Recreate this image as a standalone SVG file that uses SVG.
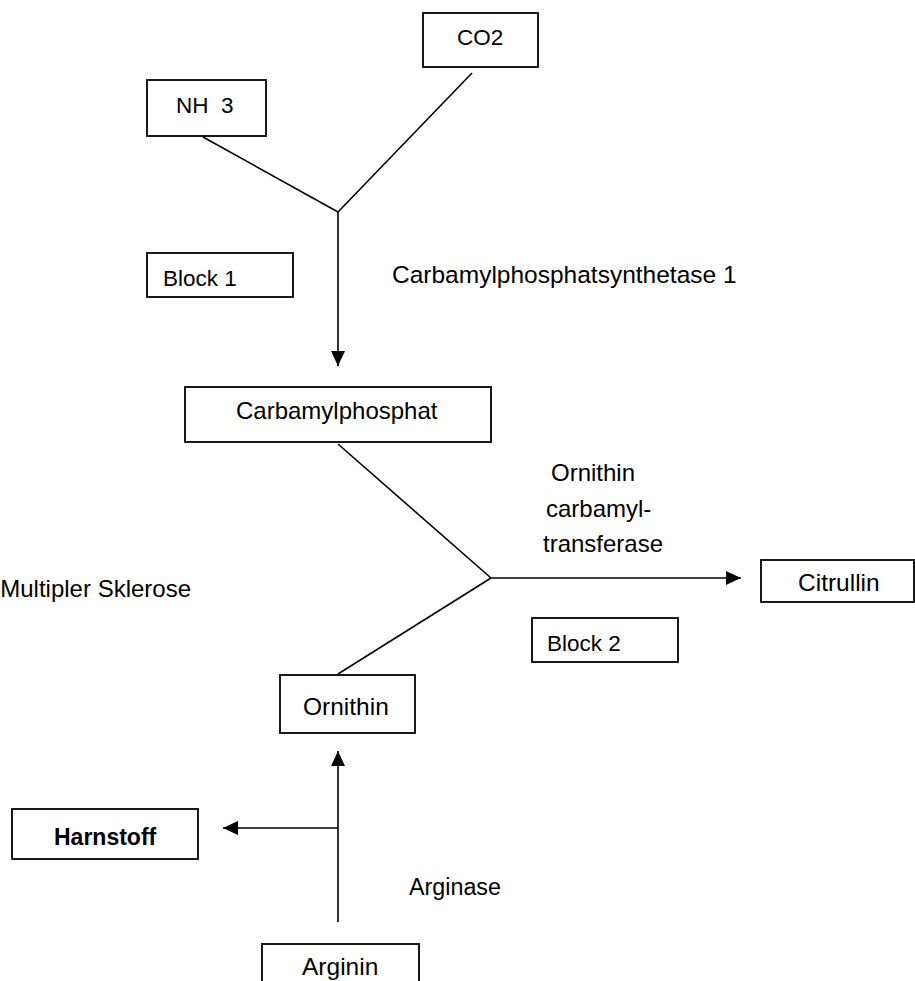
<svg xmlns="http://www.w3.org/2000/svg" width="915" height="981" viewBox="0 0 915 981">
  <style>
    text { font-family: "Liberation Sans", Arial, sans-serif; fill: #000; }
    .t { font-size: 24px; }
    .s { font-size: 22.5px; }
    .b { font-weight: bold; }
    .box { fill: #fff; stroke: #000; stroke-width: 1.8; }
    .ln { fill: none; stroke: #000; stroke-width: 1.6; }
    .arr { marker-end: url(#ah); }
  </style>
  <defs>
    <marker id="ah" viewBox="0 0 15 14" refX="15" refY="7" markerWidth="15" markerHeight="14" markerUnits="userSpaceOnUse" orient="auto">
      <path d="M0,0 L15,7 L0,14 Z" fill="#000"/>
    </marker>
  </defs>
  <rect width="915" height="981" fill="#fff"/>

  <g id="connectors">
    <line class="ln" x1="203" y1="137" x2="338" y2="212"/>
    <line class="ln" x1="472" y1="73" x2="338" y2="212"/>
    <line class="ln arr" x1="338" y1="212" x2="338" y2="366"/>
    <line class="ln" x1="338" y1="444" x2="491" y2="578"/>
    <line class="ln" x1="491" y1="578" x2="338" y2="674"/>
    <line class="ln arr" x1="491" y1="578" x2="741" y2="578"/>
    <line class="ln arr" x1="338" y1="922" x2="338" y2="751"/>
    <line class="ln arr" x1="338" y1="828" x2="223" y2="828"/>
  </g>

  <g id="co2">
    <rect class="box" x="423" y="13" width="115" height="54"/>
    <text class="s" x="457" y="45">CO2</text>
  </g>
  <g id="nh3">
    <rect class="box" x="147" y="80" width="119" height="56"/>
    <text class="s" x="176" y="113" xml:space="preserve">NH  3</text>
  </g>
  <g id="block1">
    <rect class="box" x="147" y="253" width="146" height="44"/>
    <text class="s" x="163" y="286">Block 1</text>
  </g>
  <g id="label-cps1">
    <text class="t" x="392" y="283" style="font-size:24.5px">Carbamylphosphatsynthetase 1</text>
  </g>
  <g id="carbamylphosphat">
    <rect class="box" x="185" y="387" width="306" height="55"/>
    <text class="t" x="236" y="419">Carbamylphosphat</text>
  </g>
  <g id="label-otc">
    <text class="t" x="551" y="481">Ornithin</text>
    <text class="t" x="546" y="517">carbamyl-</text>
    <text class="t" x="543" y="552">transferase</text>
  </g>
  <g id="citrullin">
    <rect class="box" x="761" y="560" width="153" height="42"/>
    <text class="t" x="798" y="591" style="font-size:24.5px">Citrullin</text>
  </g>
  <g id="label-ms">
    <text class="t" x="191" y="597" text-anchor="end">Multipler Sklerose</text>
  </g>
  <g id="block2">
    <rect class="box" x="532" y="618" width="146" height="44"/>
    <text class="s" x="547" y="651">Block 2</text>
  </g>
  <g id="ornithin">
    <rect class="box" x="280" y="675" width="135" height="58"/>
    <text class="t" x="303" y="715" style="font-size:24.5px">Ornithin</text>
  </g>
  <g id="harnstoff">
    <rect class="box" x="12" y="809" width="186" height="50"/>
    <text class="t b" x="54" y="845" style="font-size:23px">Harnstoff</text>
  </g>
  <g id="label-arginase">
    <text class="s" x="409" y="895" style="font-size:23.3px">Arginase</text>
  </g>
  <g id="arginin">
    <rect class="box" x="262" y="944" width="157" height="50"/>
    <text class="t" x="302" y="975" style="font-size:24.5px">Arginin</text>
  </g>
</svg>
